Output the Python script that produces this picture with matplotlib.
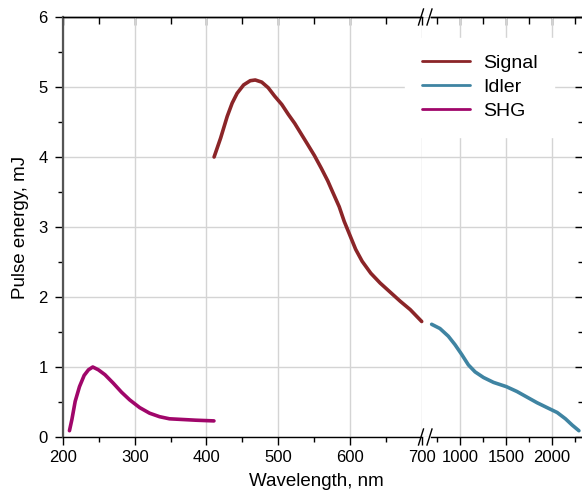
import matplotlib
matplotlib.use("Agg")
import matplotlib.pyplot as plt
from matplotlib.lines import Line2D
from matplotlib.ticker import MultipleLocator, FixedLocator

plt.rcParams['font.family'] = ['Liberation Sans', 'DejaVu Sans']

# ---- data ----
signal_wl = [410.6, 419.7, 428.9, 435.8, 442.7, 451.8, 461, 468, 477, 486, 495, 505, 514,
             523, 532, 541, 550.5, 560, 569, 575, 585, 592, 600, 608, 617, 629, 642,
             656, 670, 684, 700]
signal_e = [4.00, 4.27, 4.58, 4.77, 4.91, 5.03, 5.09, 5.10, 5.07, 4.99, 4.87, 4.75, 4.61,
            4.48, 4.33, 4.18, 4.02, 3.84, 3.66, 3.52, 3.29, 3.08, 2.88, 2.68, 2.51, 2.34, 2.20,
            2.07, 1.94, 1.82, 1.65]

shg_wl = [209, 212.4, 217, 223, 229.5, 235.5, 241.5, 249.3, 258.5, 270, 281.6, 293,
          306.9, 320.7, 334.6, 348.4, 366.8, 385, 410.4]
shg_e = [0.09, 0.25, 0.51, 0.72, 0.88, 0.96, 1.00, 0.96, 0.89, 0.77, 0.64, 0.53,
         0.42, 0.34, 0.29, 0.26, 0.25, 0.24, 0.23]

idler_wl = [692, 782, 873, 945, 1018, 1091, 1164, 1255, 1364, 1502, 1618, 1727,
            1836, 1945, 2055, 2145, 2218, 2291]
idler_e = [1.61, 1.55, 1.44, 1.32, 1.18, 1.03, 0.93, 0.85, 0.78, 0.72, 0.65, 0.57,
           0.49, 0.42, 0.35, 0.26, 0.17, 0.09]

left_xticks = [200, 300, 400, 500, 600, 700]
right_xticks = [1000, 1500, 2000]
yticks = [0, 1, 2, 3, 4, 5, 6]

labels = ["Signal", "Idler", "SHG"]
colors = ["#8b2528", "#3f84a2", "#a0066a"]

FS_TICK = 12
FS_LABEL = 13.5
FS_LEG = 14

# ---- figure ----
W, H = 582, 493
fig = plt.figure(figsize=(W / 100, H / 100), dpi=100)

def fx(px):
    return px / W

def fy(py):
    return 1 - py / H

y_top, y_bot = 17, 437
grid_col = "#d4d4d4"

# background axes carrying the continuous horizontal grid
axB = fig.add_axes([fx(63), fy(y_bot), fx(582.5) - fx(63), fy(y_top) - fy(y_bot)])
axB.set_ylim(0, 6)
axB.set_xlim(0, 1)
axB.yaxis.set_major_locator(FixedLocator(yticks))
axB.grid(True, axis="y", color=grid_col, linewidth=1.0)
axB.set_xticks([])
axB.tick_params(axis="y", left=False, labelleft=False)
for s in axB.spines.values():
    s.set_visible(False)
axB.set_zorder(0)

axL = fig.add_axes([fx(63), fy(y_bot), fx(421.7) - fx(63), fy(y_top) - fy(y_bot)])
axR = fig.add_axes([fx(431), fy(y_bot), fx(582.5) - fx(431), fy(y_top) - fy(y_bot)])

for ax in (axL, axR):
    ax.set_ylim(0, 6)
    ax.yaxis.set_major_locator(FixedLocator(yticks))
    ax.yaxis.set_minor_locator(MultipleLocator(0.5))
    ax.grid(True, which="major", axis="x", color=grid_col, linewidth=1.0, zorder=0)
    ax.set_axisbelow(True)
    ax.set_facecolor("none")
    ax.set_zorder(1)
    for s in ax.spines.values():
        s.set_color("black")
        s.set_linewidth(1.0)

axL.set_xlim(200, 700)
axL.xaxis.set_major_locator(FixedLocator(left_xticks))
axL.xaxis.set_minor_locator(MultipleLocator(50))
axR.set_xlim(685, 2330)
axR.xaxis.set_major_locator(FixedLocator(right_xticks))
axR.xaxis.set_minor_locator(FixedLocator([750, 1250, 1750, 2250]))

axL.spines["right"].set_visible(False)
axR.spines["left"].set_visible(False)
axL.spines["left"].set_color("#555555")
axL.spines["left"].set_linewidth(1.6)

tick_major = dict(length=6, width=1.0, labelsize=FS_TICK, color="black")
tick_minor = dict(length=3.5, width=1.0, color="black")
for ax in (axL, axR):
    ax.tick_params(axis="x", which="major", direction="out", top=False, pad=3.5, **tick_major)
    ax.tick_params(axis="x", which="minor", direction="out", top=False, **tick_minor)

for ax in (axL, axR):
    t = ax.secondary_xaxis("top")
    t.xaxis.set_major_locator(ax.xaxis.get_major_locator())
    t.xaxis.set_minor_locator(ax.xaxis.get_minor_locator())
    t.tick_params(which="major", direction="in", length=6, width=1.0, labeltop=False)
    t.tick_params(which="minor", direction="in", length=5, width=1.0)
    t.spines["top"].set_linewidth(1.0)

axL.tick_params(axis="y", which="major", direction="out", right=False, pad=5, **tick_major)
axL.tick_params(axis="y", which="minor", direction="out", right=False, **tick_minor)
axR.tick_params(axis="y", which="both", left=False, labelleft=False, right=True,
                direction="in")
axR.tick_params(axis="y", which="major", length=6, width=1.0)
axR.tick_params(axis="y", which="minor", length=3.5, width=1.0)

lw = 2.6
hS, = axL.plot(signal_wl, signal_e, color=colors[0], lw=lw, solid_capstyle="round",
               solid_joinstyle="round", label=labels[0], clip_on=False, zorder=3)
hG, = axL.plot(shg_wl, shg_e, color=colors[2], lw=lw, solid_capstyle="round",
               solid_joinstyle="round", label=labels[2], clip_on=False, zorder=3)
hI, = axR.plot(idler_wl, idler_e, color=colors[1], lw=lw, solid_capstyle="round",
               solid_joinstyle="round", label=labels[1], clip_on=False, zorder=3)

axL.set_ylabel("Pulse energy, mJ", fontsize=FS_LABEL, labelpad=7)
fig.text(fx(316), fy(482), "Wavelength, nm", fontsize=FS_LABEL, ha="center", va="center")

# legend
leg = fig.legend(handles=[hS, hI, hG], labels=labels, loc="upper left",
                 bbox_to_anchor=(fx(405), fy(38)), fontsize=FS_LEG, frameon=True,
                 facecolor="white", edgecolor="white", framealpha=1.0, fancybox=False,
                 handlelength=2.47, handletextpad=0.7, labelspacing=0.33, borderpad=0.85,
                 borderaxespad=0.0)
leg.set_zorder(5)
for l in leg.get_lines():
    l.set_linewidth(2.0)

# break marks
for ybase in (y_bot, y_top):
    for x0 in (418.5, 427.0):
        fig.add_artist(Line2D([fx(x0), fx(x0 + 5)], [fy(ybase + 8), fy(ybase - 8)],
                              transform=fig.transFigure, color="black", lw=1.0))

fig.savefig("out.png", dpi=100)
